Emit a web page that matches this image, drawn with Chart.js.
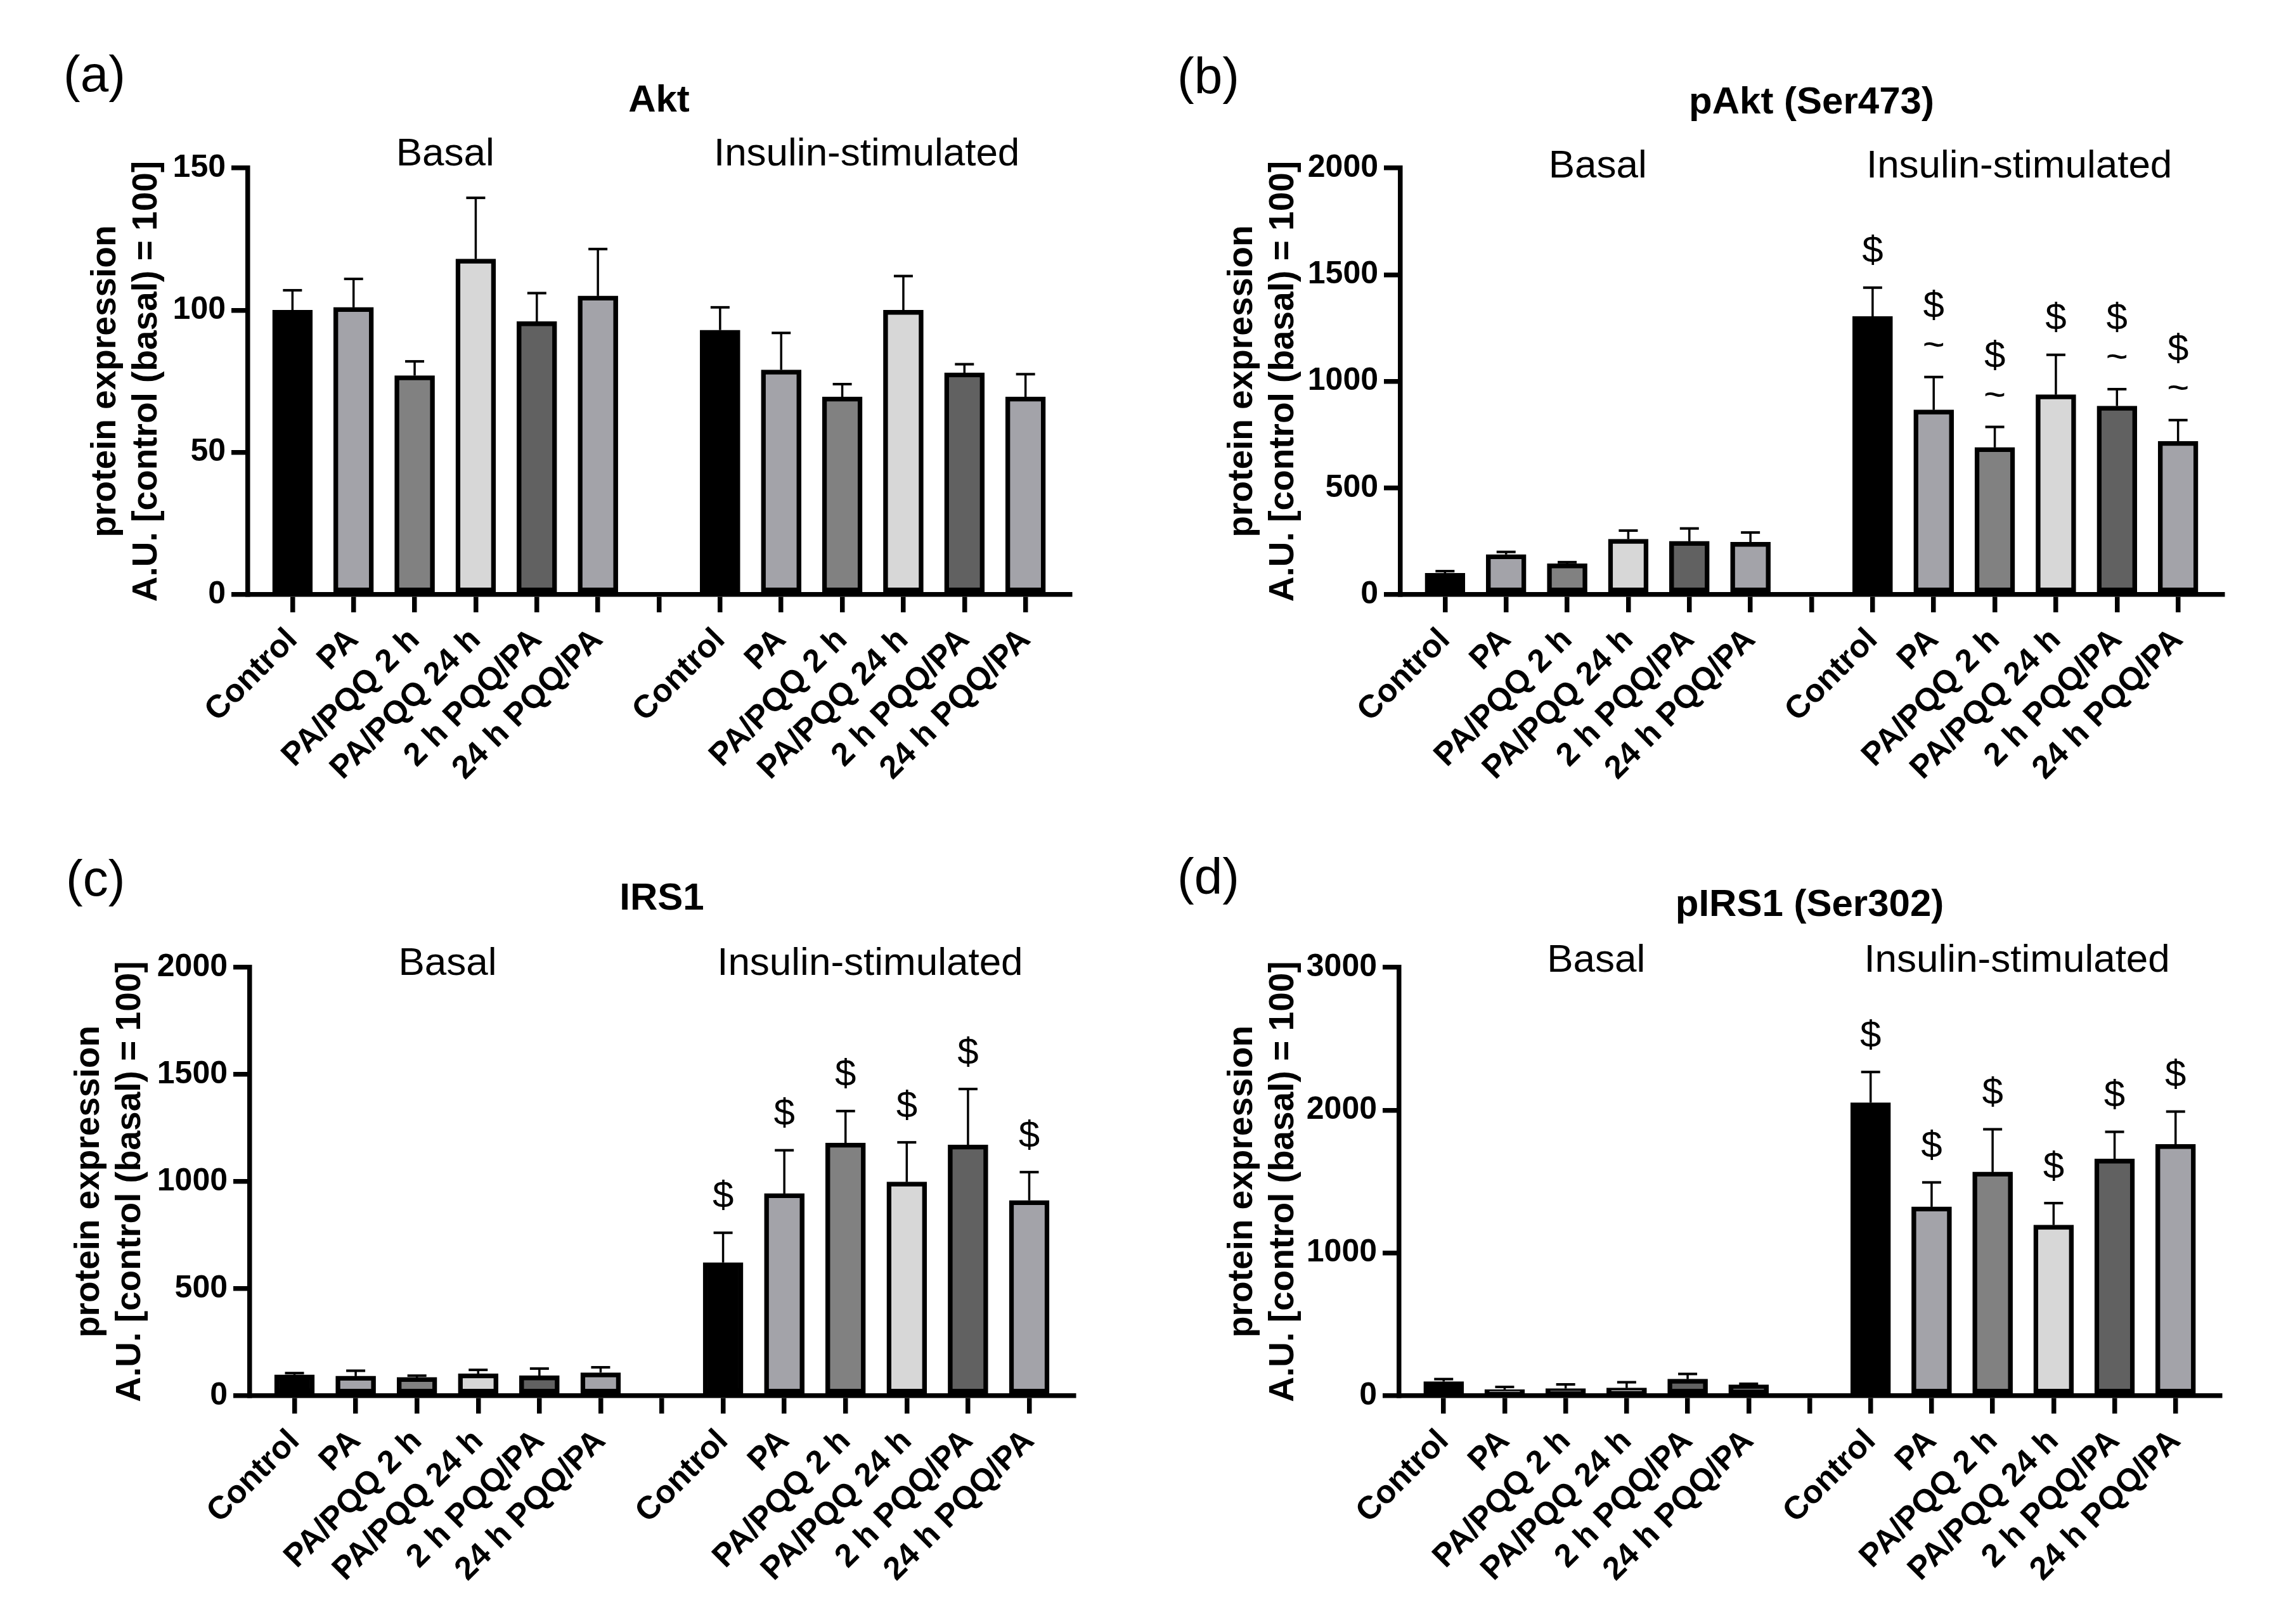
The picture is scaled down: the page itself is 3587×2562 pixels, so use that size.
<!DOCTYPE html>
<html>
<head>
<meta charset="utf-8">
<script src="https://cdn.jsdelivr.net/npm/chart.js@4.4.0/dist/chart.umd.min.js"></script>
<style>
  html, body { margin: 0; padding: 0; background: #fff; }
  #figure { position: relative; width: 3587px; height: 2562px; background: #fff; }
  canvas { position: absolute; }
</style>
</head>
<body>
<div id="figure">
  <canvas id="panelA" width="1793" height="1281" style="left:0px;top:0px"></canvas>
  <canvas id="panelB" width="1794" height="1281" style="left:1793px;top:0px"></canvas>
  <canvas id="panelC" width="1793" height="1281" style="left:0px;top:1281px"></canvas>
  <canvas id="panelD" width="1794" height="1281" style="left:1793px;top:1281px"></canvas>
</div>
<script>
const FONT = '"Liberation Sans", Arial, Helvetica, sans-serif';

// categories (same in both groups), blank slot between the groups
const groups = ['Control', 'PA', 'PA/PQQ 2 h', 'PA/PQQ 24 h', '2 h PQQ/PA', '24 h PQQ/PA'];
const tickLabels = groups.concat([''], groups);
const barColors = ['#000000', '#a3a3a9', '#818181', '#d7d7d7', '#616161', '#a3a3a9'];

// Akt
const aktBasal = [100, 101, 77, 118, 96, 105];
const aktBasalErr = [7, 10, 5, 21.5, 10, 16.5];
const aktInsulin = [93, 79, 69.5, 100, 78, 69.5];
const aktInsulinErr = [8, 13, 4.5, 12, 3, 8];

// pAkt (Ser473)
const pAktBasal = [100, 188, 145, 260, 250, 246];
const pAktBasalErr = [10, 12, 7, 40, 60, 45];
const pAktInsulin = [1304, 866, 690, 937, 884, 719];
const pAktInsulinErr = [135, 154, 96, 187, 79, 99];
const pAktDollar = [1, 1, 1, 1, 1, 1];
const pAktTilde = [0, 1, 1, 0, 1, 1];

// IRS1
const irsBasal = [98, 92, 86, 103, 94, 108];
const irsBasalErr = [8, 25, 8, 18, 33, 25];
const irsInsulin = [622, 944, 1180, 998, 1171, 912];
const irsInsulinErr = [139, 202, 149, 185, 261, 132];
const irsDollar = [1, 1, 1, 1, 1, 1];

// pIRS1 (Ser302)
const pIrsBasal = [100, 44, 51, 55, 117, 77];
const pIrsBasalErr = [17, 18, 29, 40, 36, 7];
const pIrsInsulin = [2052, 1323, 1567, 1196, 1658, 1760];
const pIrsInsulinErr = [215, 171, 299, 153, 190, 230];
const pIrsDollar = [1, 1, 1, 1, 1, 1];

const none = [0, 0, 0, 0, 0, 0];

function toPoints(basal, insulin) {
    const pts = [];
    basal.forEach((v, i) => pts.push({x: i, y: v}));
    insulin.forEach((v, i) => pts.push({x: i + 7, y: v}));
    return pts;
}

function buildPanel(id, p) {
    const values = p.basal.concat(p.insulin);
    const errors = p.basalErr.concat(p.insulinErr);
    const dollar = none.concat(p.dollar || none);
    const tilde = none.concat(p.tilde || none);

    const errorBars = {
        id: 'errorBars',
        afterDatasetsDraw(chart) {
            const ctx = chart.ctx;
            const yScale = chart.scales.y;
            const meta = chart.getDatasetMeta(0);
            ctx.save();
            ctx.strokeStyle = '#000';
            ctx.fillStyle = '#000';
            meta.data.forEach((bar, i) => {
                const top = yScale.getPixelForValue(values[i] + errors[i]);
                ctx.lineWidth = 3.5;
                ctx.beginPath();
                ctx.moveTo(bar.x, bar.y);
                ctx.lineTo(bar.x, top);
                ctx.stroke();
                ctx.lineWidth = 4;
                ctx.beginPath();
                ctx.moveTo(bar.x - 15, top);
                ctx.lineTo(bar.x + 15, top);
                ctx.stroke();

                // significance marks above the error bar
                ctx.font = '60px ' + FONT;
                ctx.textAlign = 'center';
                ctx.textBaseline = 'middle';
                if (tilde[i]) {
                    ctx.fillText('~', bar.x, top - 48);
                    if (dollar[i]) ctx.fillText('$', bar.x, top - 110);
                } else if (dollar[i]) {
                    ctx.fillText('$', bar.x, top - 56);
                }
            });
            ctx.restore();
        }
    };

    const labels = {
        id: 'panelText',
        afterDraw(chart) {
            const ctx = chart.ctx;
            const area = chart.chartArea;
            const xScale = chart.scales.x;
            ctx.save();
            ctx.fillStyle = '#000';
            ctx.textBaseline = 'middle';

            ctx.textAlign = 'left';
            ctx.font = '80px ' + FONT;
            ctx.fillText(p.letter, p.letterX, p.letterY);

            ctx.textAlign = 'center';
            ctx.font = 'bold 60px ' + FONT;
            ctx.fillText(p.title, (area.left + area.right) / 2, area.top + p.titleDy);

            ctx.font = '62px ' + FONT;
            ctx.fillText('Basal', xScale.getPixelForValue(2.5), area.top + p.groupDy);
            ctx.fillText('Insulin-stimulated', xScale.getPixelForValue(9.4), area.top + p.groupDy);
            ctx.restore();
        }
    };

    new Chart(document.getElementById(id), {
        type: 'bar',
        data: {
            datasets: [{
                data: toPoints(p.basal, p.insulin),
                backgroundColor: barColors.concat(barColors),
                borderColor: '#000',
                borderWidth: 7.5,
                borderSkipped: false,
                barThickness: 63
            }]
        },
        options: {
            responsive: false,
            animation: false,
            devicePixelRatio: 1,
            layout: {padding: {left: 0, top: p.top, right: p.right, bottom: p.bottom}},
            plugins: {legend: {display: false}, tooltip: {enabled: false}, title: {display: false}},
            scales: {
                x: {
                    type: 'linear',
                    min: -0.73,
                    max: 12.73,
                    offset: false,
                    afterBuildTicks: scale => {
                        scale.ticks = tickLabels.map((_, i) => ({value: i}));
                    },
                    afterFit: scale => { scale.height = 300; },
                    grid: {display: true, offset: false, drawOnChartArea: false, drawTicks: true,
                           tickLength: 28, lineWidth: 7.5, color: '#000'},
                    border: {display: true, width: 7.5, color: '#000'},
                    ticks: {
                        autoSkip: false,
                        minRotation: 45,
                        maxRotation: 45,
                        padding: 14,
                        color: '#000',
                        font: {family: FONT, size: 51, weight: 'bold'},
                        callback: value => tickLabels[value]
                    }
                },
                y: {
                    min: 0,
                    max: p.yMax,
                    afterFit: scale => { scale.width = p.axisWidth; },
                    grid: {display: true, drawOnChartArea: false, drawTicks: true,
                           tickLength: 26, lineWidth: 7.5, color: '#000'},
                    border: {display: true, width: 7.5, color: '#000'},
                    ticks: {
                        stepSize: p.yStep,
                        padding: 9,
                        color: '#000',
                        font: {family: FONT, size: 50, weight: 'bold'},
                        callback: value => String(value)
                    },
                    title: {
                        display: true,
                        text: ['protein expression', 'A.U. [control (basal) = 100]'],
                        color: '#000',
                        font: {family: FONT, size: 55, weight: 'bold', lineHeight: 1.18},
                        padding: {top: p.titlePad, bottom: 0}
                    }
                }
            }
        },
        plugins: [errorBars, labels]
    });
}

buildPanel('panelA', {
    letter: '(a)', letterX: 100, letterY: 122, title: 'Akt', titleDy: -106, groupDy: -21,
    basal: aktBasal, basalErr: aktBasalErr, insulin: aktInsulin, insulinErr: aktInsulinErr,
    yMax: 150, yStep: 50, axisWidth: 391, titlePad: 134, top: 265, right: 105, bottom: 43
});
buildPanel('panelB', {
    letter: '(b)', letterX: 64, letterY: 125, title: 'pAkt (Ser473)', titleDy: -103, groupDy: -2,
    basal: pAktBasal, basalErr: pAktBasalErr, insulin: pAktInsulin, insulinErr: pAktInsulinErr,
    dollar: pAktDollar, tilde: pAktTilde,
    yMax: 2000, yStep: 500, axisWidth: 416, titlePad: 134, top: 265, right: 81, bottom: 43
});
buildPanel('panelC', {
    letter: '(c)', letterX: 104, letterY: 110, title: 'IRS1', titleDy: -108, groupDy: -5,
    basal: irsBasal, basalErr: irsBasalErr, insulin: irsInsulin, insulinErr: irsInsulinErr,
    dollar: irsDollar,
    yMax: 2000, yStep: 500, axisWidth: 394, titlePad: 108, top: 245, right: 99, bottom: 60
});
buildPanel('panelD', {
    letter: '(d)', letterX: 64, letterY: 107, title: 'pIRS1 (Ser302)', titleDy: -98, groupDy: -10,
    basal: pIrsBasal, basalErr: pIrsBasalErr, insulin: pIrsInsulin, insulinErr: pIrsInsulinErr,
    dollar: pIrsDollar,
    yMax: 3000, yStep: 1000, axisWidth: 414, titlePad: 134, top: 245, right: 85, bottom: 60
});
</script>
</body>
</html>
